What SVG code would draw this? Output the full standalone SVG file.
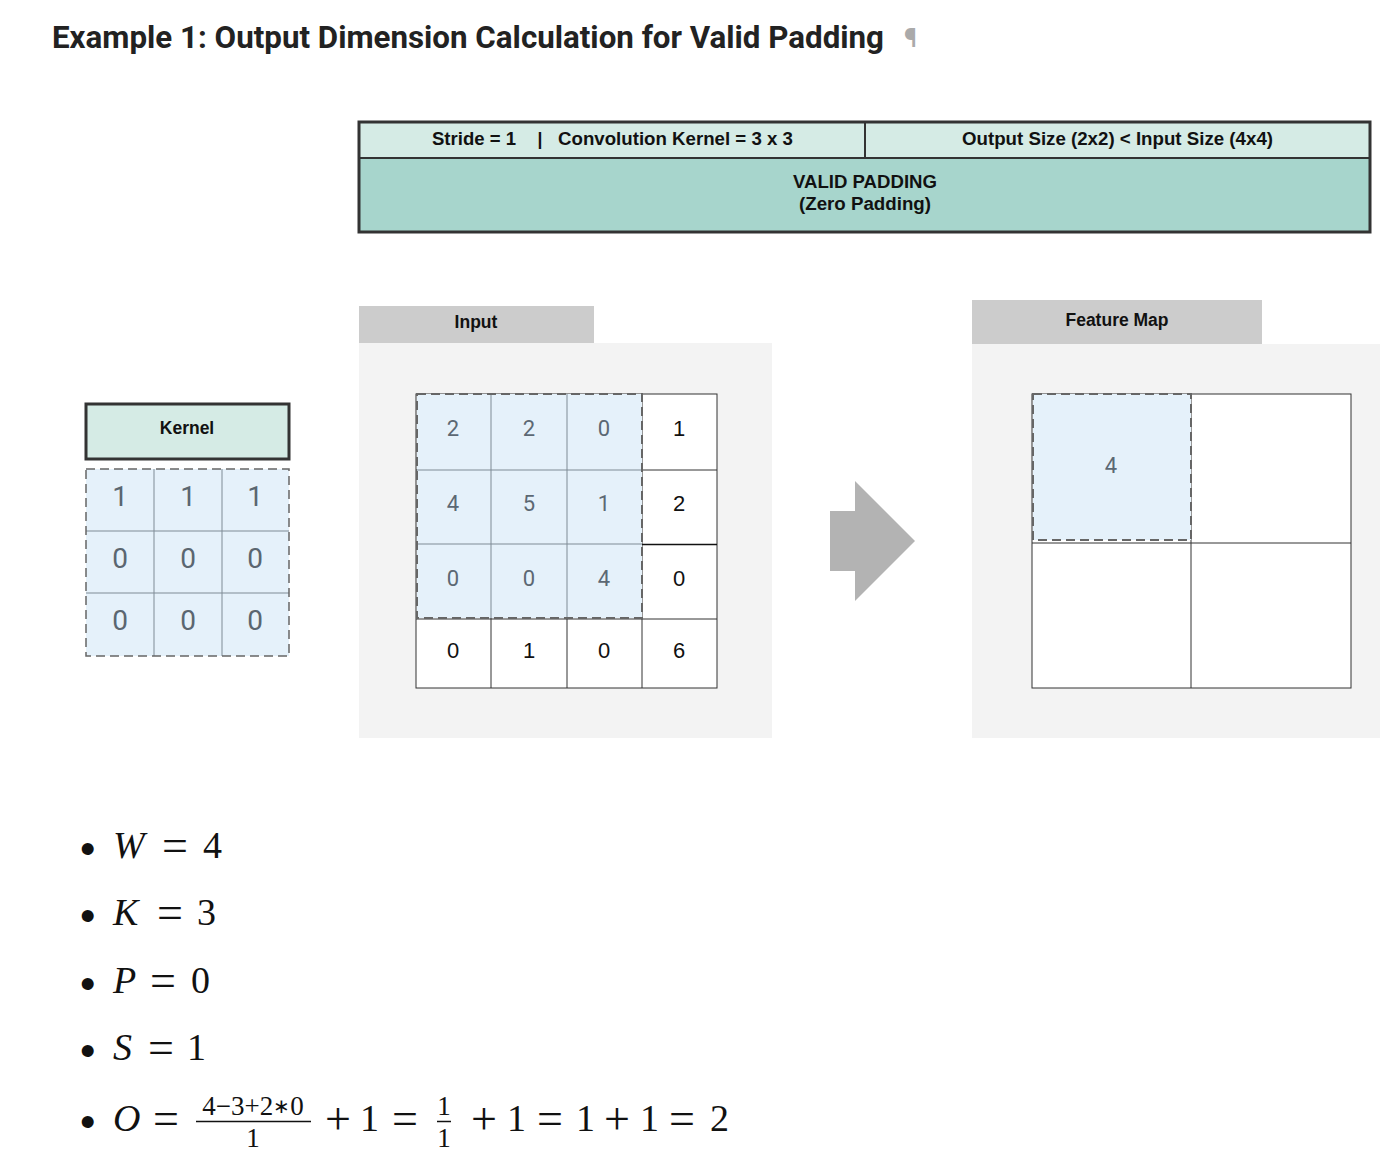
<svg xmlns="http://www.w3.org/2000/svg" width="1380" height="1172" viewBox="0 0 1380 1172">
<style>
  .sans { font-family: Roboto, "Liberation Sans", Arial, sans-serif; }
  .lbl { font-family: "Liberation Sans", Arial, sans-serif; font-weight: 700; font-size: 17.5px; fill: #111; text-anchor: middle; }
  .hd { font-family: "Liberation Sans", Arial, sans-serif; font-weight: 700; font-size: 17.5px; fill: #111; text-anchor: middle; }
  .num { font-family: "Liberation Sans", Arial, sans-serif; font-size: 22px; fill: #111; text-anchor: middle; }
  .numh { font-family: Roboto, "Liberation Sans", Arial, sans-serif; font-size: 22px; fill: #5c6873; text-anchor: middle; }
  .knum { font-family: Roboto, "Liberation Sans", Arial, sans-serif; font-size: 28px; fill: #5a6670; text-anchor: middle; }
  .m { font-family: "Liberation Serif", "Times New Roman", serif; font-size: 38px; fill: #111; }
  .op { font-family: "Liberation Serif", "Times New Roman", serif; font-size: 46px; fill: #111; }
  .mi { font-family: "Liberation Serif", "Times New Roman", serif; font-size: 38px; font-style: italic; fill: #111; }
  .ms { font-family: "Liberation Serif", "Times New Roman", serif; font-size: 27px; fill: #111; text-anchor: middle; }
  .bul { font-family: "Liberation Sans", Arial, sans-serif; font-size: 44px; fill: #111; }
  .cell { fill: #ffffff; stroke: #333; stroke-width: 1; }
  .hl { fill: #e5f1fa; stroke: none; }
  .hlline { stroke: #7f8b95; stroke-width: 1; fill: none; }
  .dash { fill: none; stroke: #666; stroke-width: 2; stroke-dasharray: 9 5; }
</style>

<!-- Title -->
<g id="title">
  <text x="52" y="48" class="sans" font-weight="700" font-size="32" fill="#222" textLength="832" lengthAdjust="spacingAndGlyphs">Example 1: Output Dimension Calculation for Valid Padding</text>
  <text x="904" y="47" class="sans" font-weight="700" font-size="26" fill="#aaaaaa">¶</text>
</g>

<!-- Header box -->
<g id="header">
  <rect x="359" y="122" width="1011" height="36" fill="#d5ebe5"/>
  <rect x="359" y="158" width="1011" height="74" fill="#a7d5cc"/>
  <line x1="359" y1="158" x2="1370" y2="158" stroke="#333" stroke-width="2"/>
  <line x1="865" y1="122" x2="865" y2="158" stroke="#333" stroke-width="2"/>
  <rect x="359" y="122" width="1011" height="110" fill="none" stroke="#333" stroke-width="3"/>
  <text x="474" y="145" class="hd" textLength="84" lengthAdjust="spacingAndGlyphs">Stride = 1</text>
  <text x="540" y="145" class="hd">|</text>
  <text x="675.5" y="145" class="hd" textLength="235" lengthAdjust="spacingAndGlyphs">Convolution Kernel = 3 x 3</text>
  <text x="1117.5" y="145" class="hd" textLength="311" lengthAdjust="spacingAndGlyphs">Output Size (2x2) &lt; Input Size (4x4)</text>
  <text x="865" y="188" class="hd" textLength="144" lengthAdjust="spacingAndGlyphs">VALID PADDING</text>
  <text x="865" y="210" class="hd" textLength="132" lengthAdjust="spacingAndGlyphs">(Zero Padding)</text>
</g>

<!-- Kernel -->
<g id="kernel">
  <rect x="86" y="404" width="203" height="55" fill="#d5ebe5" stroke="#333" stroke-width="3"/>
  <text x="187" y="434" class="lbl">Kernel</text>
  <rect x="86" y="469" width="203" height="187" class="hl"/>
  <line x1="154" y1="469" x2="154" y2="656" class="hlline"/>
  <line x1="222" y1="469" x2="222" y2="656" class="hlline"/>
  <line x1="86" y1="531" x2="289" y2="531" class="hlline"/>
  <line x1="86" y1="593" x2="289" y2="593" class="hlline"/>
  <rect x="86" y="469" width="203" height="187" fill="none" stroke="#666" stroke-width="1.5" stroke-dasharray="9 5"/>
  <text x="120" y="506" class="knum">1</text>
  <text x="188" y="506" class="knum">1</text>
  <text x="255" y="506" class="knum">1</text>
  <text x="120" y="568" class="knum">0</text>
  <text x="188" y="568" class="knum">0</text>
  <text x="255" y="568" class="knum">0</text>
  <text x="120" y="630" class="knum">0</text>
  <text x="188" y="630" class="knum">0</text>
  <text x="255" y="630" class="knum">0</text>
</g>

<!-- Input -->
<g id="input">
  <rect x="359" y="343" width="413" height="395" fill="#f3f3f3"/>
  <rect x="359" y="306" width="235" height="37" fill="#cccccc"/>
  <text x="476" y="328" class="lbl">Input</text>
  <rect x="416" y="394" width="301" height="294" class="cell"/>
  <line x1="491" y1="394" x2="491" y2="688" stroke="#333" stroke-width="1"/>
  <line x1="567" y1="394" x2="567" y2="688" stroke="#333" stroke-width="1"/>
  <line x1="642" y1="394" x2="642" y2="688" stroke="#333" stroke-width="1"/>
  <line x1="416" y1="470" x2="717" y2="470" stroke="#333" stroke-width="1"/>
  <line x1="416" y1="544.5" x2="717" y2="544.5" stroke="#111" stroke-width="1.5"/>
  <line x1="416" y1="619" x2="717" y2="619" stroke="#333" stroke-width="1"/>
  <rect x="417" y="394" width="225" height="224" class="hl"/>
  <line x1="491" y1="394" x2="491" y2="618" class="hlline"/>
  <line x1="567" y1="394" x2="567" y2="618" class="hlline"/>
  <line x1="417" y1="470" x2="642" y2="470" class="hlline"/>
  <line x1="417" y1="544" x2="642" y2="544" class="hlline"/>
  <rect x="417" y="394" width="225" height="224" class="dash"/>
  <text x="453" y="436" class="numh">2</text>
  <text x="529" y="436" class="numh">2</text>
  <text x="604" y="436" class="numh">0</text>
  <text x="679" y="436" class="num">1</text>
  <text x="453" y="511" class="numh">4</text>
  <text x="529" y="511" class="numh">5</text>
  <text x="604" y="511" class="numh">1</text>
  <text x="679" y="511" class="num">2</text>
  <text x="453" y="586" class="numh">0</text>
  <text x="529" y="586" class="numh">0</text>
  <text x="604" y="586" class="numh">4</text>
  <text x="679" y="586" class="num">0</text>
  <text x="453" y="658" class="num">0</text>
  <text x="529" y="658" class="num">1</text>
  <text x="604" y="658" class="num">0</text>
  <text x="679" y="658" class="num">6</text>
</g>

<!-- Connector arrow -->
<g id="connectors">
  <polygon points="830,511 855,511 855,481 915,541 855,601 855,571 830,571" fill="#b3b3b3"/>
</g>

<!-- Feature Map -->
<g id="feature-map">
  <rect x="972" y="344" width="408" height="394" fill="#f3f3f3"/>
  <rect x="972" y="300" width="290" height="44" fill="#cccccc"/>
  <text x="1117" y="326" class="lbl">Feature Map</text>
  <rect x="1032" y="394" width="319" height="294" class="cell"/>
  <line x1="1191" y1="394" x2="1191" y2="688" stroke="#333" stroke-width="1"/>
  <line x1="1032" y1="543" x2="1351" y2="543" stroke="#333" stroke-width="1"/>
  <rect x="1033" y="394" width="158" height="146" class="hl"/>
  <rect x="1033" y="394" width="158" height="146" class="dash"/>
  <text x="1111" y="473" class="numh">4</text>
</g>

<!-- Formulas -->
<g id="formulas">
  <text x="80" y="864" class="bul">•</text>
  <text x="113" y="858" class="mi">W</text>
  <text x="162" y="861" class="op">=</text>
  <text x="203" y="858" class="m">4</text>

  <text x="80" y="931" class="bul">•</text>
  <text x="113" y="925" class="mi">K</text>
  <text x="157" y="928" class="op">=</text>
  <text x="197" y="925" class="m">3</text>

  <text x="80" y="999" class="bul">•</text>
  <text x="113" y="993" class="mi">P</text>
  <text x="150" y="996" class="op">=</text>
  <text x="191" y="993" class="m">0</text>

  <text x="80" y="1066" class="bul">•</text>
  <text x="113" y="1060" class="mi">S</text>
  <text x="148" y="1063" class="op">=</text>
  <text x="187" y="1060" class="m">1</text>

  <text x="80" y="1137" class="bul">•</text>
  <text x="113" y="1131" class="mi">O</text>
  <text x="153" y="1134" class="op">=</text>
  <text x="253" y="1115" class="ms">4−3+2<tspan font-size="20" dy="-2">∗</tspan><tspan dy="2">0</tspan></text>
  <line x1="196" y1="1121.5" x2="311" y2="1121.5" stroke="#111" stroke-width="1.5"/>
  <text x="253" y="1147" class="ms">1</text>
  <text x="325" y="1134" class="op">+</text>
  <text x="360" y="1131" class="m">1</text>
  <text x="392" y="1134" class="op">=</text>
  <text x="444" y="1115" class="ms">1</text>
  <line x1="437" y1="1121.5" x2="451" y2="1121.5" stroke="#111" stroke-width="1.5"/>
  <text x="444" y="1147" class="ms">1</text>
  <text x="471" y="1134" class="op">+</text>
  <text x="507" y="1131" class="m">1</text>
  <text x="537" y="1134" class="op">=</text>
  <text x="576" y="1131" class="m">1</text>
  <text x="604" y="1134" class="op">+</text>
  <text x="640" y="1131" class="m">1</text>
  <text x="669" y="1134" class="op">=</text>
  <text x="710" y="1131" class="m">2</text>
</g>
</svg>
